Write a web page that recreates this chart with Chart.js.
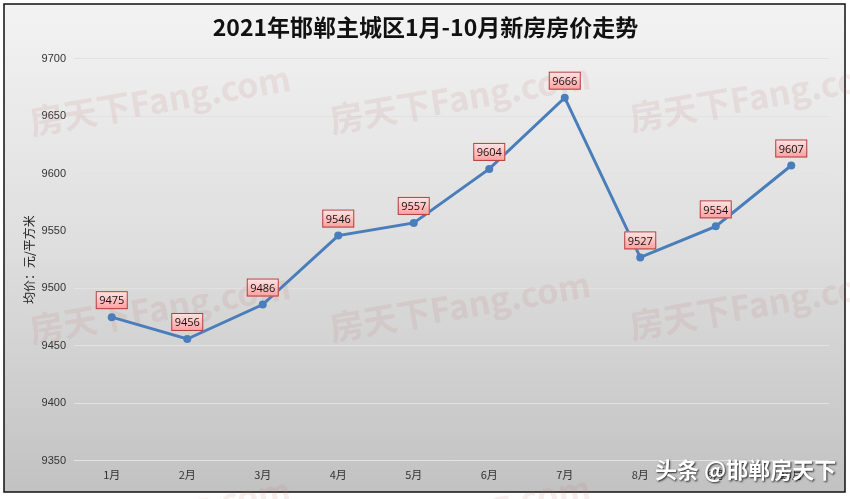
<!DOCTYPE html>
<html>
<head>
<meta charset="utf-8">
<script src="https://cdn.jsdelivr.net/npm/chart.js@4/dist/chart.umd.min.js"></script>
<style>
  body { margin: 0; background: #fff; }
  #wrap { width: 850px; height: 499px; }
</style>
</head>
<body>
<div id="wrap"><canvas id="line-chartcanvas" width="850" height="499"></canvas></div>
<script>
// data
var months = ["1月", "2月", "3月", "4月", "5月", "6月", "7月", "8月", "9月", "10月"];
var prices = [9475, 9456, 9486, 9546, 9557, 9604, 9666, 9527, 9554, 9607];
var yTicks = [9350, 9400, 9450, 9500, 9550, 9600, 9650, 9700];

var cnFont = "'Noto Sans CJK SC', 'Open Sans', sans-serif";

// grey gradient frame behind everything
var framePlugin = {
  id: "frame",
  beforeDraw: function(chart) {
    var c = chart.ctx;
    c.save();
    c.fillStyle = "#ffffff";
    c.fillRect(0, 0, chart.width, chart.height);
    var g = c.createLinearGradient(0, 4, 0, 492);
    g.addColorStop(0, "#f3f3f3");
    g.addColorStop(0.5, "#dedede");
    g.addColorStop(1, "#c2c2c2");
    c.fillStyle = g;
    c.fillRect(4, 4, 841, 488);
    c.lineWidth = 1.5;
    c.strokeStyle = "#111";
    c.strokeRect(4, 4, 841, 488);
    c.restore();
  },
  beforeDatasetsDraw: function(chart) {
    // faint site watermarks
    var c = chart.ctx;
    var spots = [[160, 100], [460, 98], [760, 96], [160, 308], [460, 306], [760, 304], [160, 512], [460, 510]];
    c.save();
    c.font = "bold 34px 'Noto Sans CJK SC', sans-serif";
    c.fillStyle = "rgba(190, 110, 110, 0.12)";
    c.textAlign = "center";
    c.textBaseline = "middle";
    spots.forEach(function(p) {
      c.save();
      c.translate(p[0], p[1]);
      c.rotate(-0.17);
      c.fillText("房天下Fang.com", 0, 0);
      c.restore();
    });
    c.restore();
  },
  afterDraw: function(chart) {
    var c = chart.ctx;
    var meta = chart.getDatasetMeta(0);
    c.save();
    c.font = "11px 'Open Sans', sans-serif";
    c.textAlign = "center";
    c.textBaseline = "middle";
    meta.data.forEach(function(pt, i) {
      var w = 32, h = 18;
      var x = pt.x - w / 2, y = pt.y - 17 - h / 2;
      var g = c.createLinearGradient(0, y, 0, y + h);
      g.addColorStop(0, "#ffe6e6");
      g.addColorStop(1, "#ff9e9e");
      c.fillStyle = g;
      c.fillRect(x, y, w, h);
      c.lineWidth = 1;
      c.strokeStyle = "#b0403e";
      c.strokeRect(x + 0.5, y + 0.5, w - 1, h - 1);
      c.fillStyle = "#111";
      c.fillText(String(prices[i]), pt.x, y + h / 2 + 1);
    });
    // toutiao mark, bottom right
    c.font = "bold 22px 'Noto Sans CJK SC', sans-serif";
    c.textAlign = "left";
    c.shadowColor = "rgba(0,0,0,0.8)";
    c.shadowBlur = 2;
    c.shadowOffsetX = 1;
    c.shadowOffsetY = 1;
    c.fillStyle = "#ffffff";
    c.fillText("头条 @邯郸房天下", 655, 470);
    c.restore();
  }
};

var ctx = document.getElementById("line-chartcanvas");

var data = {
  labels: months,
  datasets: [
    {
      label: "均价",
      data: prices,
      borderColor: "#4a7ebb",
      backgroundColor: "#4a7ebb",
      borderWidth: 3,
      fill: false,
      tension: 0,
      pointRadius: 4,
      pointBorderWidth: 0
    }
  ]
};

var options = {
  responsive: false,
  animation: false,
  layout: { padding: { top: 13, left: 22, right: 21, bottom: 11 } },
  plugins: {
    legend: { display: false },
    tooltip: { enabled: false },
    title: {
      display: true,
      text: "2021年邯郸主城区1月-10月新房房价走势",
      color: "#111",
      font: { family: cnFont, size: 23, weight: "bold" },
      padding: { top: 0, bottom: 18 }
    }
  },
  scales: {
    x: {
      offset: true,
      grid: { display: false, drawTicks: false },
      border: { display: false },
      ticks: { color: "#333", font: { family: cnFont, size: 11 }, padding: 7, maxRotation: 0 }
    },
    y: {
      min: yTicks[0],
      max: yTicks[yTicks.length - 1],
      afterBuildTicks: function(axis) {
        axis.ticks = yTicks.map(function(v) { return { value: v }; });
      },
      afterFit: function(axis) {
        axis.width = 52;
      },
      grid: { color: "#e2e2e2", lineWidth: 1, drawTicks: false },
      border: { display: false },
      ticks: {
        color: "#333",
        font: { family: "'Liberation Sans', sans-serif", size: 11 },
        padding: 8,
        callback: function(v) { return String(v); }
      },
      title: {
        display: true,
        text: "均价：元/平方米",
        color: "#222",
        font: { family: cnFont, size: 12 },
        padding: { top: 0, bottom: 5 }
      }
    }
  }
};

var chart = new Chart(ctx, {
  type: "line",
  data: data,
  options: options,
  plugins: [framePlugin]
});
</script>
</body>
</html>
